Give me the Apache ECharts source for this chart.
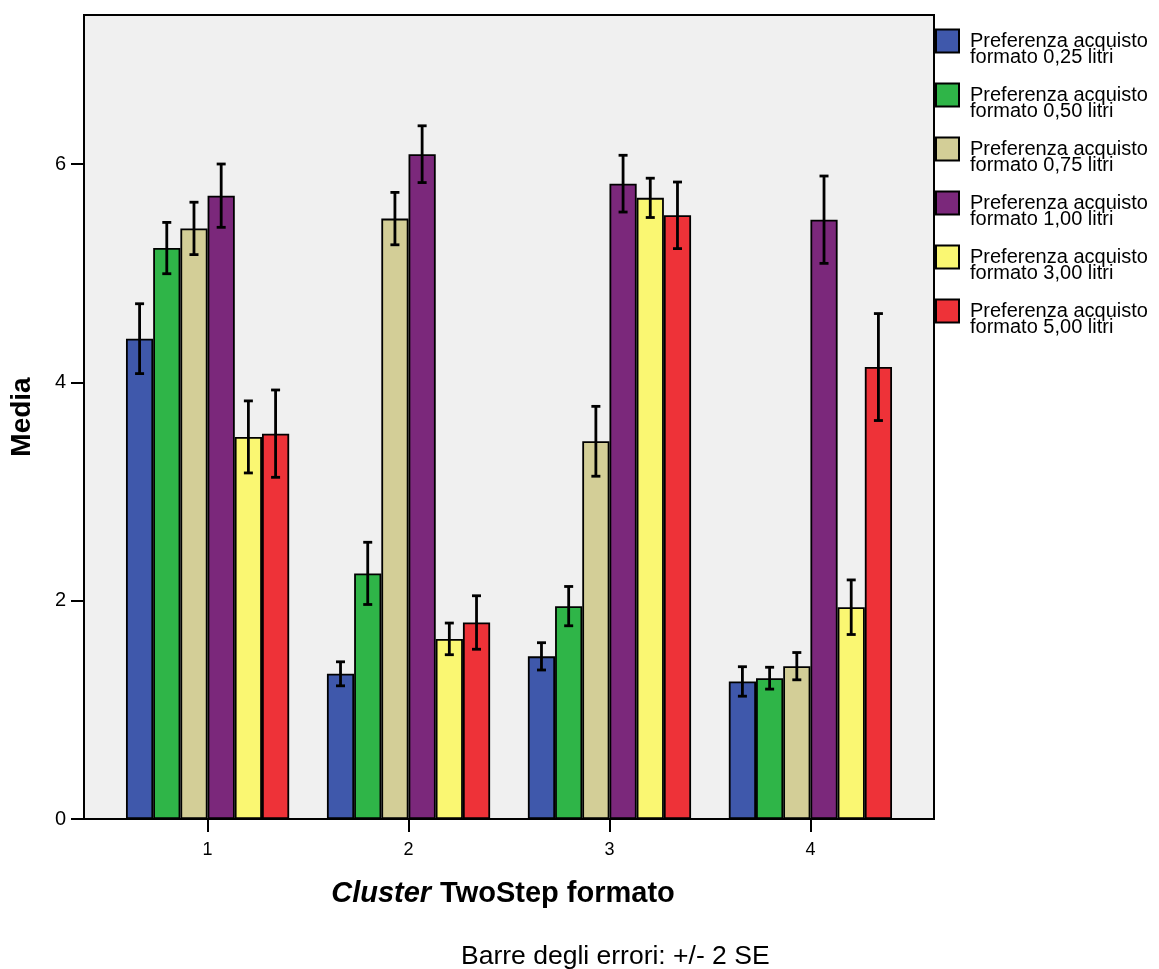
<!DOCTYPE html>
<html>
<head>
<meta charset="utf-8">
<script src="https://cdn.jsdelivr.net/npm/echarts@6/dist/echarts.min.js"></script>
<style>
  html, body { margin: 0; padding: 0; background: #fff; }
  #chart { width: 1159px; height: 969px; }
</style>
</head>
<body>
<div id="chart"></div>
<script>
// Cluster numbers (x axis) and their tick labels
const clusters = [1, 2, 3, 4];
const clusterLabels = ['1', '2', '3', '4'];

// Series names (legend)
const seriesNames = [
  'Preferenza acquisto\nformato 0,25 litri',
  'Preferenza acquisto\nformato 0,50 litri',
  'Preferenza acquisto\nformato 0,75 litri',
  'Preferenza acquisto\nformato 1,00 litri',
  'Preferenza acquisto\nformato 3,00 litri',
  'Preferenza acquisto\nformato 5,00 litri'
];

// Mean preference per cluster
const mean025 = [4.40, 1.33, 1.49, 1.26];
const mean050 = [5.23, 2.25, 1.95, 1.29];
const mean075 = [5.41, 5.50, 3.46, 1.40];
const mean100 = [5.71, 6.09, 5.82, 5.49];
const mean300 = [3.50, 1.65, 5.69, 1.94];
const mean500 = [3.53, 1.80, 5.53, 4.14];

// Error bar half-widths (2 SE) per cluster
const se2_025 = [0.32, 0.11, 0.125, 0.135];
const se2_050 = [0.235, 0.285, 0.18, 0.10];
const se2_075 = [0.24, 0.24, 0.32, 0.125];
const se2_100 = [0.29, 0.26, 0.26, 0.40];
const se2_300 = [0.33, 0.145, 0.18, 0.25];
const se2_500 = [0.40, 0.245, 0.305, 0.49];

// Y axis tick values
const yTicks = [0, 2, 4, 6];

const means = [mean025, mean050, mean075, mean100, mean300, mean500];
const errs = [se2_025, se2_050, se2_075, se2_100, se2_300, se2_500];
const colors = ['#3f58ab', '#2fb548', '#d3ce97', '#7b287b', '#faf772', '#ee3238'];

const BAR_W = 27.2;
const FONT = '"Liberation Sans", Arial, Helvetica, sans-serif';

const chart = echarts.init(document.getElementById('chart'));

const barSeries = means.map((m, i) => ({
  name: seriesNames[i],
  type: 'bar',
  barWidth: BAR_W,
  barGap: '0%',
  itemStyle: { color: colors[i], borderColor: '#000', borderWidth: 1.8 },
  data: clusters.map((c, k) => [c, m[k]]),
  z: 2
}));

const errSeries = means.map((m, i) => ({
  type: 'custom',
  name: seriesNames[i] + ' err',
  z: 5,
  data: clusters.map((c, k) => [c, m[k] - errs[i][k], m[k] + errs[i][k]]),
  renderItem: function (params, api) {
    const lo = api.coord([api.value(0), api.value(1)]);
    const hi = api.coord([api.value(0), api.value(2)]);
    const x = lo[0] + (i - 2.5) * BAR_W;
    const cap = 4.5;
    const style = { stroke: '#000', lineWidth: 2.8 };
    return {
      type: 'group',
      children: [
        { type: 'line', shape: { x1: x, y1: lo[1], x2: x, y2: hi[1] }, style: style },
        { type: 'line', shape: { x1: x - cap, y1: lo[1], x2: x + cap, y2: lo[1] }, style: style },
        { type: 'line', shape: { x1: x - cap, y1: hi[1], x2: x + cap, y2: hi[1] }, style: style }
      ]
    };
  },
  silent: true
}));

chart.setOption({
  animation: false,
  textStyle: { fontFamily: FONT },
  grid: {
    left: 83, right: 225, top: 15, bottom: 150,
    show: true, backgroundColor: '#f0f0f0', borderColor: '#000', borderWidth: 2
  },
  legend: {
    orient: 'vertical',
    left: 935, top: 17,
    padding: 0,
    itemWidth: 23, itemHeight: 23,
    itemGap: 4,
    icon: 'rect',
    itemStyle: { borderColor: '#000', borderWidth: 2 },
    // an empty leading line drops the two text lines slightly below the swatch
    formatter: name => '{lead|}\n' + name,
    textStyle: {
      fontFamily: FONT, fontSize: 20, lineHeight: 16, color: '#000', padding: [0, 0, 0, 6],
      rich: { lead: { lineHeight: 16, fontSize: 10 } }
    },
    data: seriesNames
  },
  xAxis: {
    type: 'value',
    min: 0.385, max: 4.615,
    splitLine: { show: false },
    axisLine: { lineStyle: { color: '#000', width: 2 } },
    axisTick: { customValues: clusters, length: 13, lineStyle: { color: '#000', width: 2 } },
    axisLabel: {
      customValues: clusters,
      formatter: v => clusterLabels[clusters.indexOf(v)],
      fontSize: 18, color: '#000', margin: 22, fontFamily: FONT
    },
    name: '{i|Cluster}{sp|}{b|TwoStep formato}',
    nameLocation: 'middle',
    nameGap: 60,
    nameTextStyle: {
      padding: [0, 12, 0, 0],
      rich: {
        i: { fontSize: 29, fontWeight: 'bold', fontStyle: 'italic', color: '#000', fontFamily: FONT },
        sp: { width: 9 },
        b: { fontSize: 29, fontWeight: 'bold', color: '#000', fontFamily: FONT }
      }
    }
  },
  yAxis: {
    type: 'value',
    min: 0, max: 7.365,
    splitLine: { show: false },
    axisLine: { show: true, lineStyle: { color: '#000', width: 2 } },
    axisTick: { show: true, customValues: yTicks, length: 13, lineStyle: { color: '#000', width: 2 } },
    axisLabel: { customValues: yTicks, fontSize: 20, color: '#000', margin: 18, fontFamily: FONT },
    name: 'Media',
    nameLocation: 'middle',
    nameGap: 48,
    nameTextStyle: { fontSize: 28, fontWeight: 'bold', color: '#000', fontFamily: FONT }
  },
  title: {
    text: 'Barre degli errori: +/- 2 SE',
    left: 461, top: 943,
    padding: 0,
    textStyle: { fontSize: 26.5, fontWeight: 'normal', color: '#000', fontFamily: FONT }
  },
  series: barSeries.concat(errSeries)
});
</script>
</body>
</html>
